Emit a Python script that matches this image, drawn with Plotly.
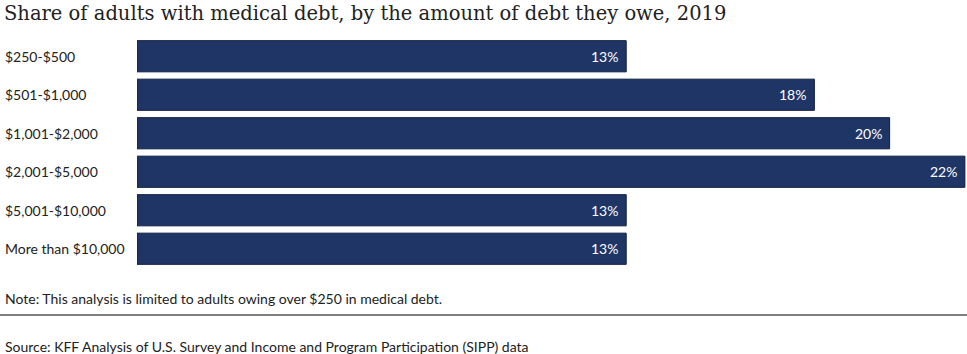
import plotly.graph_objects as go

categories = ["$250-$500", "$501-$1,000", "$1,001-$2,000", "$2,001-$5,000",
              "$5,001-$10,000", "More than $10,000"]
values = [13, 18, 20, 22, 13, 13]
labels = ["13%", "18%", "20%", "22%", "13%", "13%"]

title = "Share of adults with medical debt, by the amount of debt they owe, 2019"
note = "Note: This analysis is limited to adults owing over $250 in medical debt."
source = "Source: KFF Analysis of U.S. Survey and Income and Program Participation (SIPP) data"

W, H = 967, 354
ML, MR, MT, MB = 137, 1, 37, 86
PW = W - ML - MR
PH = H - MT - MB

fig = go.Figure()
fig.add_trace(go.Bar(
    x=values, y=categories, orientation="h",
    marker=dict(color="#1f3566", line=dict(color="#0e1c42", width=1)),
    hoverinfo="skip",
))

ann = []
for c, v, l in zip(categories, values, labels):
    ann.append(dict(x=v, y=c, xref="x", yref="y", text=l, showarrow=False,
                    xanchor="right", xshift=-6,
                    font=dict(family="Lato", size=14, color="white")))
    ann.append(dict(x=-(ML - 3) / PW, y=c, xref="paper", yref="y", text=c,
                    showarrow=False, xanchor="left",
                    font=dict(family="Lato", size=14, color="#222222")))

ann.append(dict(x=-(ML - 2) / PW, y=1 + (MT - 14) / PH, xref="paper", yref="paper",
                text=title, showarrow=False, xanchor="left", yanchor="middle",
                font=dict(family="DejaVu Serif", size=19.5, color="#222222")))
ann.append(dict(x=-(ML - 3) / PW, y=-(298 - (H - MB)) / PH, xref="paper", yref="paper",
                text=note, showarrow=False, xanchor="left", yanchor="middle",
                font=dict(family="Lato", size=14, color="#222222")))
ann.append(dict(x=-(ML - 3) / PW, y=-(346 - (H - MB)) / PH, xref="paper", yref="paper",
                text=source, showarrow=False, xanchor="left", yanchor="middle",
                font=dict(family="Lato", size=14, color="#222222")))

fig.update_layout(
    width=W, height=H,
    margin=dict(l=ML, r=MR, t=MT, b=MB),
    paper_bgcolor="white", plot_bgcolor="white",
    bargap=0.19,
    showlegend=False,
    annotations=ann,
    shapes=[dict(type="line", xref="paper", yref="paper",
                 x0=-ML / PW, x1=1 + MR / PW,
                 y0=-(315 - (H - MB)) / PH, y1=-(315 - (H - MB)) / PH,
                 line=dict(color="#555555", width=1.5))],
    xaxis=dict(range=[0, 22.03], visible=False, fixedrange=True),
    yaxis=dict(categoryorder="array", categoryarray=categories, autorange="reversed",
               showticklabels=False, showgrid=False, zeroline=False, fixedrange=True),
)

fig.write_html("out.html", config={"displayModeBar": False})
